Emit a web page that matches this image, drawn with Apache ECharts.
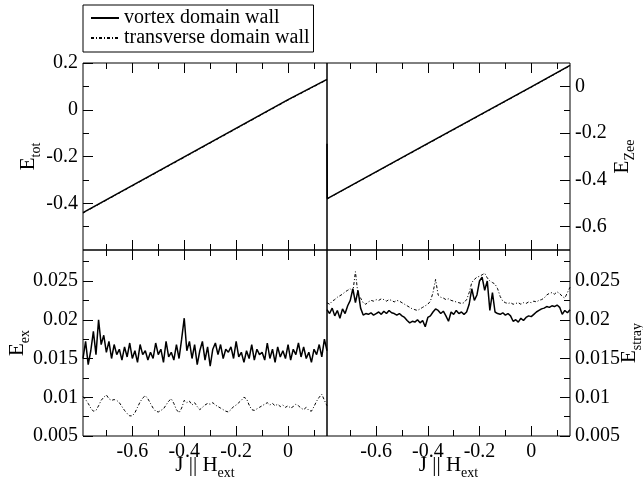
<!DOCTYPE html>
<html>
<head>
<meta charset="utf-8">
<script src="https://cdn.jsdelivr.net/npm/echarts@6/dist/echarts.min.js"></script>
<style>
html,body{margin:0;padding:0;background:#fff;}
#chart{width:643px;height:485px;}
</style>
</head>
<body>
<div id="chart"></div>
<script>
// x range and ticks, shared by all four panels
var X_MIN = -0.79, X_MAX = 0.15;
var xMajor = [-0.6, -0.4, -0.2, 0];
var xMinor = [-0.7, -0.5, -0.3, -0.1, 0.1];

// top panels: total energy (left) and Zeeman energy (right)
var totVortex = [[-0.79, -0.44], [-0.4, -0.202], [0, 0.043], [0.15, 0.13]];
var totTrans = [[-0.79, -0.442], [-0.4, -0.204], [0, 0.041], [0.15, 0.128]];
var zeeVortex = [[-0.79, -0.245], [-0.789, -0.48], [-0.4, -0.244], [0, -0.002], [0.15, 0.09]];
var zeeTrans = [[-0.79, -0.482], [-0.4, -0.246], [0, -0.004], [0.15, 0.088]];

// bottom panels sampled every 0.01 from -0.79 to 0.15
var exVortex = [0.0150,0.0172,0.0142,0.0160,0.0185,0.0155,0.0200,0.0168,0.0180,0.0158,
  0.0172,0.0150,0.0168,0.0155,0.0162,0.0148,0.0165,0.0152,0.0170,0.0150,
  0.0160,0.0145,0.0168,0.0155,0.0160,0.0148,0.0158,0.0150,0.0170,0.0155,
  0.0162,0.0145,0.0172,0.0152,0.0158,0.0148,0.0168,0.0150,0.0175,0.0202,
  0.0160,0.0172,0.0150,0.0168,0.0142,0.0160,0.0172,0.0148,0.0165,0.0140,
  0.0162,0.0170,0.0155,0.0168,0.0150,0.0162,0.0158,0.0165,0.0150,0.0172,
  0.0152,0.0158,0.0145,0.0160,0.0150,0.0168,0.0148,0.0162,0.0155,0.0158,
  0.0148,0.0170,0.0150,0.0162,0.0145,0.0165,0.0152,0.0160,0.0150,0.0168,
  0.0148,0.0162,0.0155,0.0170,0.0152,0.0165,0.0150,0.0158,0.0145,0.0162,
  0.0155,0.0168,0.0152,0.0175,0.0160];
var exTrans = [0.0101,0.0097,0.0092,0.0086,0.0082,0.0083,0.0089,0.0096,0.0100,0.0103,
  0.0098,0.0096,0.0097,0.0096,0.0093,0.0088,0.0083,0.0079,0.0076,0.0076,
  0.0080,0.0087,0.0094,0.0099,0.0102,0.0098,0.0092,0.0086,0.0082,0.0081,
  0.0083,0.0085,0.0090,0.0095,0.0098,0.0092,0.0084,0.0080,0.0086,0.0096,
  0.0093,0.0095,0.0090,0.0093,0.0088,0.0084,0.0087,0.0090,0.0092,0.0091,
  0.0093,0.0090,0.0088,0.0086,0.0084,0.0082,0.0081,0.0084,0.0088,0.0090,
  0.0093,0.0096,0.0100,0.0098,0.0090,0.0084,0.0083,0.0085,0.0087,0.0089,
  0.0091,0.0093,0.0090,0.0092,0.0089,0.0091,0.0088,0.0090,0.0087,0.0089,
  0.0086,0.0088,0.0091,0.0089,0.0086,0.0084,0.0087,0.0083,0.0082,0.0088,
  0.0095,0.0100,0.0104,0.0096,0.0089];
var strayVortex = [0.0213,0.0208,0.0215,0.0205,0.0212,0.0202,0.0214,0.0208,0.0218,0.0225,
  0.0240,0.0222,0.0238,0.0215,0.0206,0.0208,0.0207,0.0209,0.0206,0.0208,
  0.0210,0.0207,0.0211,0.0208,0.0212,0.0209,0.0208,0.0206,0.0208,0.0205,
  0.0203,0.0199,0.0196,0.0198,0.0197,0.0200,0.0196,0.0199,0.0191,0.0203,
  0.0205,0.0210,0.0214,0.0212,0.0208,0.0211,0.0205,0.0198,0.0210,0.0207,
  0.0212,0.0208,0.0210,0.0207,0.0210,0.0220,0.0240,0.0225,0.0232,0.0250,
  0.0255,0.0238,0.0250,0.0212,0.0235,0.0210,0.0208,0.0207,0.0209,0.0206,
  0.0208,0.0205,0.0198,0.0200,0.0197,0.0202,0.0199,0.0203,0.0205,0.0204,
  0.0207,0.0210,0.0212,0.0214,0.0215,0.0217,0.0216,0.0218,0.0217,0.0219,
  0.0216,0.0207,0.0212,0.0209,0.0213];
var strayTrans = [0.0222,0.0220,0.0224,0.0226,0.0229,0.0231,0.0233,0.0236,0.0238,0.0240,
  0.0236,0.0262,0.0232,0.0228,0.0222,0.0220,0.0223,0.0225,0.0224,0.0226,
  0.0225,0.0227,0.0226,0.0224,0.0226,0.0225,0.0223,0.0225,0.0224,0.0222,
  0.0220,0.0218,0.0216,0.0214,0.0213,0.0212,0.0214,0.0216,0.0218,0.0220,
  0.0224,0.0235,0.0252,0.0232,0.0229,0.0228,0.0226,0.0227,0.0225,0.0224,
  0.0223,0.0222,0.0221,0.0222,0.0226,0.0235,0.0248,0.0252,0.0255,0.0256,
  0.0258,0.0260,0.0254,0.0250,0.0248,0.0246,0.0240,0.0230,0.0224,0.0222,
  0.0221,0.0222,0.0220,0.0221,0.0222,0.0220,0.0222,0.0221,0.0223,0.0222,
  0.0224,0.0223,0.0225,0.0226,0.0228,0.0232,0.0234,0.0235,0.0233,0.0236,
  0.0234,0.0230,0.0228,0.0235,0.0242];

var FONT = 'Liberation Serif';
var VORTEX = 'vortex domain wall', TRANS = 'transverse domain wall';

function sampled(vals) {
  return vals.map(function (v, i) { return [Math.round((X_MIN + i * 0.01) * 100) / 100, v]; });
}

var grids = [
  {left: 83, top: 63, width: 244, height: 187},
  {left: 327, top: 63, width: 243, height: 187},
  {left: 83, top: 250, width: 244, height: 186},
  {left: 327, top: 250, width: 243, height: 186}
];

// y axis setup per panel
var yConf = [
  {pos: 'left', min: -0.6, max: 0.2, major: [-0.4, -0.2, 0, 0.2], minor: [-0.5, -0.3, -0.1, 0.1], name: '{m|E}{s|tot}', gap: 40},
  {pos: 'right', min: -0.7, max: 0.1, major: [-0.6, -0.4, -0.2, 0], minor: [-0.5, -0.3, -0.1], name: '{m|E}{s|Zee}', gap: 37},
  {pos: 'left', min: 0.005, max: 0.029, major: [0.005, 0.01, 0.015, 0.02, 0.025], minor: [0.0075, 0.0125, 0.0175, 0.0225, 0.0275], name: '{m|E}{s|ex}', gap: 51},
  {pos: 'right', min: 0.005, max: 0.029, major: [0.005, 0.01, 0.015, 0.02, 0.025], minor: [0.0075, 0.0125, 0.0175, 0.0225, 0.0275], name: '{m|E}{s|stray}', gap: 44}
];

var rich = {
  m: {fontFamily: FONT, fontSize: 21, color: '#000', lineHeight: 30},
  s: {fontFamily: FONT, fontSize: 14, color: '#000', verticalAlign: 'bottom', lineHeight: 30}
};

var xAxes = [], yAxes = [];
grids.forEach(function (g, gi) {
  ['bottom', 'top'].forEach(function (pos) {
    var labelled = pos === 'bottom' && gi >= 2;
    xAxes.push({
      type: 'value', gridIndex: gi, position: pos, min: X_MIN, max: X_MAX,
      axisLine: {show: false, onZero: false}, splitLine: {show: false},
      axisTick: {inside: true, length: 10, customValues: xMajor, lineStyle: {color: '#000'}},
      axisLabel: {show: labelled, customValues: xMajor, fontFamily: FONT, fontSize: 20, color: '#000', margin: 6},
      name: labelled ? '{m|J || H}{s|ext}' : '', nameLocation: 'middle', nameGap: 14,
      nameMoveOverlap: false,
      nameTextStyle: {rich: rich}
    });
    xAxes.push({
      type: 'value', gridIndex: gi, position: pos, min: X_MIN, max: X_MAX,
      axisLine: {show: false, onZero: false}, splitLine: {show: false},
      axisTick: {inside: true, length: 6, customValues: xMinor, lineStyle: {color: '#000'}},
      axisLabel: {show: false}
    });
  });
  var c = yConf[gi];
  yAxes.push({
    type: 'value', gridIndex: gi, position: c.pos, min: c.min, max: c.max,
    axisLine: {show: false, onZero: false}, splitLine: {show: false},
    axisTick: {inside: true, length: 10, customValues: c.major, lineStyle: {color: '#000'}},
    axisLabel: {customValues: c.major, fontFamily: FONT, fontSize: 20, color: '#000', margin: 5},
    name: c.name, nameLocation: 'middle', nameRotate: 90, nameGap: c.gap,
    nameMoveOverlap: false,
    nameTextStyle: {rich: rich}
  });
  yAxes.push({
    type: 'value', gridIndex: gi, position: c.pos, min: c.min, max: c.max,
    axisLine: {show: false, onZero: false}, splitLine: {show: false},
    axisTick: {inside: true, length: 6, customValues: c.minor, lineStyle: {color: '#000'}},
    axisLabel: {show: false}
  });
});

var panelData = [
  [totVortex, totTrans],
  [zeeVortex, zeeTrans],
  [sampled(exVortex), sampled(exTrans)],
  [sampled(strayVortex), sampled(strayTrans)]
];

var series = [];
panelData.forEach(function (pd, gi) {
  series.push({
    name: VORTEX, type: 'line', xAxisIndex: gi * 4, yAxisIndex: gi * 2,
    data: pd[0], symbol: 'none', animation: false,
    lineStyle: {color: '#000', width: 1.5, type: 'solid'}, itemStyle: {color: '#000'}
  });
  series.push({
    name: TRANS, type: 'line', xAxisIndex: gi * 4, yAxisIndex: gi * 2,
    data: pd[1], symbol: 'none', animation: false,
    lineStyle: {color: '#000', width: 1, type: [3, 2, 1, 2]}, itemStyle: {color: '#000'}
  });
});

var chart = echarts.init(document.getElementById('chart'));
chart.setOption({
  backgroundColor: '#fff',
  animation: false,
  legend: {
    data: [VORTEX, TRANS], orient: 'vertical', left: 83, top: 5,
    padding: [3, 4, 4, 7], itemGap: 0, itemWidth: 28, itemHeight: 14,
    itemStyle: {opacity: 0},
    borderColor: '#000', borderWidth: 1, borderRadius: 0,
    textStyle: {fontFamily: FONT, fontSize: 20, color: '#000', lineHeight: 20}
  },
  grid: grids.map(function (g) {
    return Object.assign({show: true, borderColor: '#000', borderWidth: 1, backgroundColor: 'transparent', outerBoundsMode: 'none'}, g);
  }),
  xAxis: xAxes,
  yAxis: yAxes,
  series: series
});
</script>
</body>
</html>
